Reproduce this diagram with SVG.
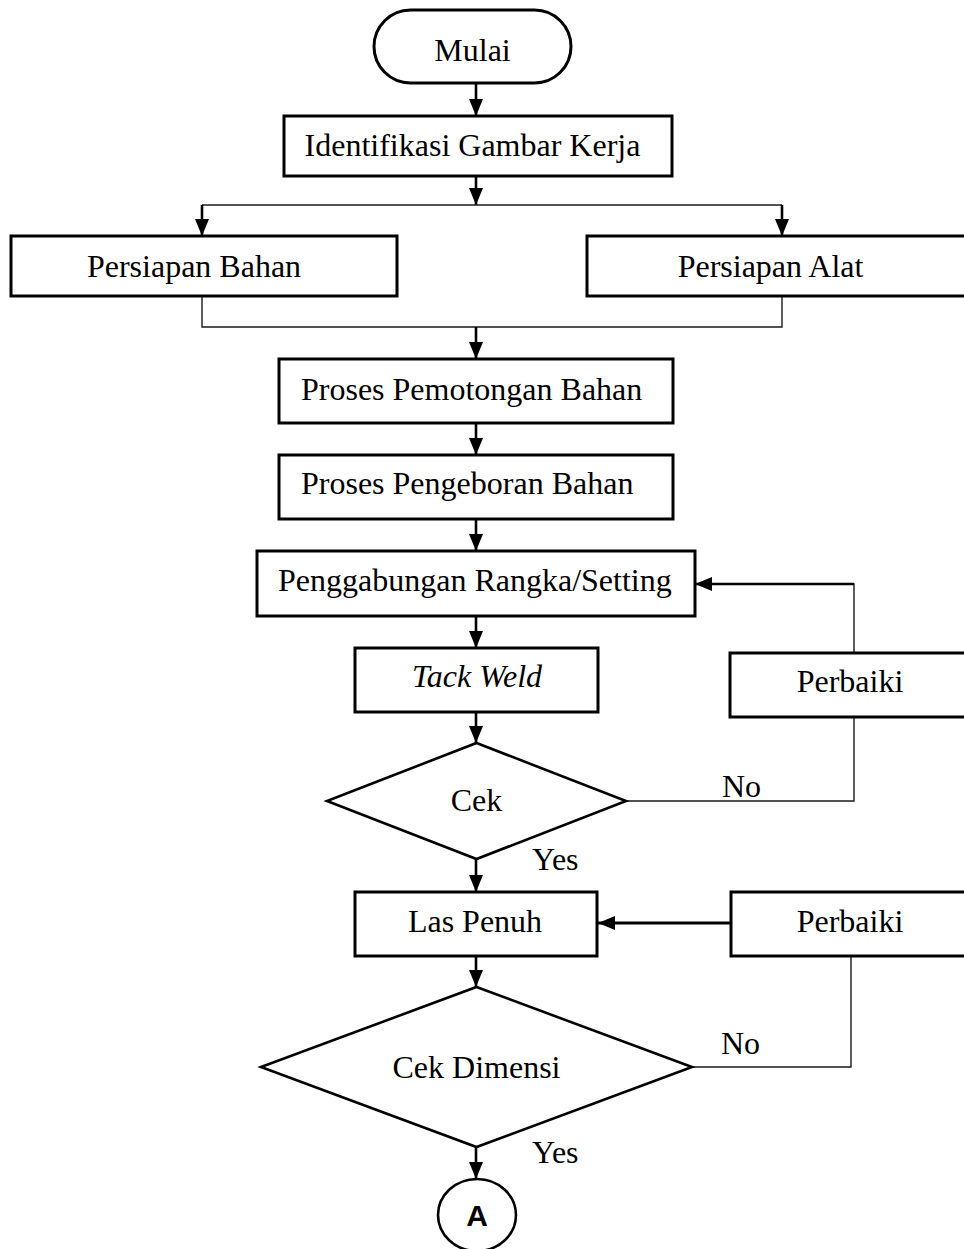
<svg xmlns="http://www.w3.org/2000/svg" width="964" height="1249" viewBox="0 0 964 1249">
<style>
.box{fill:#fff;stroke:#000;stroke-width:3}
.dia{fill:#fff;stroke:#000;stroke-width:2.6}
.t{font-family:"Liberation Serif","Times New Roman",serif;font-size:32px;fill:#000}
.c{text-anchor:middle}
.arr{fill:none;stroke:#000;stroke-width:2.6;marker-end:url(#ah)}
.thin{fill:none;stroke:#1a1a1a;stroke-width:1.4}
</style>
<defs>
<marker id="ah" markerUnits="userSpaceOnUse" markerWidth="17" markerHeight="14" refX="17" refY="7" orient="auto">
<path d="M0,0 L17,7 L0,14 Z" fill="#000"/>
</marker>
</defs>
<rect width="964" height="1249" fill="#fff"/>
<g id="connectors">
<path class="arr" d="M476,83 V116"/>
<path class="arr" d="M476,176 V205"/>
<path class="thin" d="M202,205 H782"/>
<path class="arr" d="M202,205 V236"/>
<path class="arr" d="M782,205 V236"/>
<path class="thin" d="M202,296 V327 H782 V296"/>
<path class="arr" d="M476,327 V359"/>
<path class="arr" d="M476,423 V455"/>
<path class="arr" d="M476,519 V551"/>
<path class="arr" d="M476,616 V648"/>
<path class="arr" d="M476,712 V743"/>
<path class="thin" d="M626,801 H854 V717"/>
<path class="thin" d="M854,653 V584 H710"/>
<path class="arr" d="M854,584 H695"/>
<path class="arr" d="M476,859 V892"/>
<path class="arr" d="M731,923 H598" style="stroke-width:3.2"/>
<path class="thin" d="M692,1067 H851 V956"/>
<path class="arr" d="M476,956 V987"/>
<path class="arr" d="M476,1147 V1179"/>
</g>
<g id="mulai">
<rect class="box" x="374" y="10" width="197" height="73" rx="36.5" ry="36.5"/>
<text class="t c" x="472.5" y="61">Mulai</text>
</g>
<g id="identifikasi">
<rect class="box" x="284" y="116" width="388" height="60"/>
<text class="t c" x="472.5" y="156">Identifikasi Gambar Kerja</text>
</g>
<g id="persiapan-bahan">
<rect class="box" x="11" y="236" width="386" height="60"/>
<text class="t c" x="194" y="277">Persiapan Bahan</text>
</g>
<g id="persiapan-alat">
<rect class="box" x="587" y="236" width="390" height="60"/>
<text class="t c" x="770.5" y="277">Persiapan Alat</text>
</g>
<g id="pemotongan">
<rect class="box" x="279" y="359" width="394" height="64"/>
<text class="t" x="301" y="400">Proses Pemotongan Bahan</text>
</g>
<g id="pengeboran">
<rect class="box" x="279" y="455" width="394" height="64"/>
<text class="t" x="301" y="494">Proses Pengeboran Bahan</text>
</g>
<g id="penggabungan">
<rect class="box" x="257" y="551" width="438" height="65"/>
<text class="t" x="278" y="591">Penggabungan Rangka/Setting</text>
</g>
<g id="tack-weld">
<rect class="box" x="355" y="648" width="243" height="64"/>
<text class="t c" x="477" y="687" font-style="italic">Tack Weld</text>
</g>
<g id="perbaiki-1">
<rect class="box" x="730" y="653" width="250" height="64"/>
<text class="t c" x="850" y="692">Perbaiki</text>
</g>
<g id="cek">
<polygon class="dia" points="476.5,743 626,801 476.5,859 327,801"/>
<text class="t c" x="476.5" y="811">Cek</text>
<text class="t" x="722" y="797">No</text>
<text class="t" x="532" y="870">Yes</text>
</g>
<g id="las-penuh">
<rect class="box" x="355" y="892" width="242" height="64"/>
<text class="t c" x="475" y="932">Las Penuh</text>
</g>
<g id="perbaiki-2">
<rect class="box" x="731" y="892" width="250" height="64"/>
<text class="t c" x="850" y="932">Perbaiki</text>
</g>
<g id="cek-dimensi">
<polygon class="dia" points="476.5,987 692,1067 476.5,1147 261,1067"/>
<text class="t c" x="476.5" y="1078">Cek Dimensi</text>
<text class="t" x="721" y="1054">No</text>
<text class="t" x="532" y="1163">Yes</text>
</g>
<g id="connector-a">
<ellipse cx="477" cy="1215" rx="39" ry="36" fill="#fff" stroke="#000" stroke-width="2.6"/>
<text x="477" y="1226" text-anchor="middle" font-family="'Liberation Sans',Arial,sans-serif" font-weight="bold" font-size="30">A</text>
</g>
</svg>
